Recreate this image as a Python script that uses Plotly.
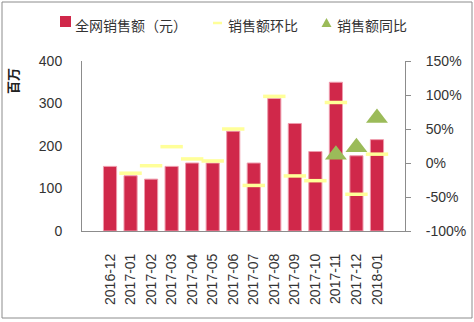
import plotly.graph_objects as go

months = ["2016-12", "2017-01", "2017-02", "2017-03", "2017-04", "2017-05", "2017-06",
          "2017-07", "2017-08", "2017-09", "2017-10", "2017-11", "2017-12", "2018-01"]
sales = [152, 130, 122, 152, 160, 160, 235, 160, 312, 253, 187, 350, 177, 215]
mom = [None, -15, -4, 24, 6, 3, 50, -33, 98, -19, -26, 89, -46, 13]
yoy = [None, None, None, None, None, None, None, None, None, None, None, 12, 23, 66]

left_ticks = [0, 100, 200, 300, 400]
right_ticks = [-100, -50, 0, 50, 100, 150]
right_labels = ["-100%", "-50%", "0%", "50%", "100%", "150%"]

series_names = ["全网销售额（元）", "销售额环比", "销售额同比"]
RED, YELLOW, GREEN = "#D0284A", "#FFFF99", "#9BBB59"

FONT = "Liberation Sans, Arial, Noto Sans CJK SC, sans-serif"

W, H = 474, 322
L, R, T, B = 82, 69, 61, 91
pw, ph = W - L - R, H - T - B


def px(x):
    return (x - L) / pw


def py(y):
    return (H - B - y) / ph


fig = go.Figure()
fig.add_trace(go.Bar(
    x=months, y=sales, name=series_names[0],
    marker=dict(color=RED, line=dict(color="#EE9BAC", width=1)),
    yaxis="y",
))
fig.add_trace(go.Scatter(
    x=months, y=mom, name=series_names[1], mode="markers",
    marker=dict(symbol="line-ew", size=16, color=YELLOW,
                line=dict(color=YELLOW, width=3.5)),
    yaxis="y2",
))
fig.add_trace(go.Scatter(
    x=months, y=yoy, name=series_names[2], mode="markers",
    marker=dict(symbol="triangle-up", size=19, color=GREEN,
                line=dict(width=0)),
    yaxis="y2",
))

legend_shapes = [
    dict(type="rect", xref="paper", yref="paper",
         x0=px(60), x1=px(71), y0=py(27), y1=py(16),
         fillcolor=RED, line=dict(width=0)),
    dict(type="line", xref="paper", yref="paper",
         x0=px(213), x1=px(222), y0=py(23), y1=py(23),
         line=dict(color=YELLOW, width=2.5)),
    dict(type="path", xref="paper", yref="paper",
         path=f"M {px(321.5)} {py(27)} L {px(331.5)} {py(27)} L {px(326.5)} {py(18)} Z",
         fillcolor=GREEN, line=dict(width=0)),
    dict(type="rect", xref="paper", yref="paper",
         x0=px(2), x1=px(472), y0=py(318), y1=py(2),
         line=dict(color="#8c8c8c", width=1), layer="below"),
]

legend_text_x = [73, 226, 335]
annotations = [
    dict(text=name, xref="paper", yref="paper", x=px(tx), y=py(25),
         xanchor="left", yanchor="middle", showarrow=False,
         font=dict(size=14, color="#333333", family="Noto Sans CJK SC, sans-serif"))
    for name, tx in zip(series_names, legend_text_x)
]
annotations.append(dict(text="<b>百万</b>", xref="paper", yref="paper",
                        x=px(12), y=py(66), xanchor="center", yanchor="top",
                        textangle=-90, showarrow=False,
                        font=dict(size=13, color="#222222",
                                  family="Noto Sans CJK SC, sans-serif")))

fig.update_layout(
    width=W, height=H,
    margin=dict(l=L, r=R, t=T, b=B, autoexpand=False),
    paper_bgcolor="white", plot_bgcolor="white",
    font=dict(family=FONT, size=14, color="#333333"),
    bargap=0.36,
    showlegend=False,
    xaxis=dict(type="category", tickangle=-90, showline=True, linecolor="#8c8c8c",
               linewidth=1, ticks="", showgrid=False, tickfont=dict(size=14),
               ticklabelstandoff=16, automargin=False),
    yaxis=dict(range=[0, 400], tickvals=left_ticks, showline=True, linecolor="#8c8c8c",
               linewidth=1, showgrid=False, zeroline=False, ticks="",
               ticklabelstandoff=16, tickfont=dict(size=14), automargin=False),
    yaxis2=dict(range=[-100, 150], overlaying="y", side="right", tickvals=right_ticks,
                ticktext=right_labels, showline=True, linecolor="#8c8c8c", linewidth=1,
                showgrid=False, zeroline=False, ticks="outside", ticklen=5,
                tickcolor="#8c8c8c", ticklabelstandoff=12, tickfont=dict(size=14),
                automargin=False),
    annotations=annotations,
    shapes=legend_shapes,
)

fig.write_html("out.html")
